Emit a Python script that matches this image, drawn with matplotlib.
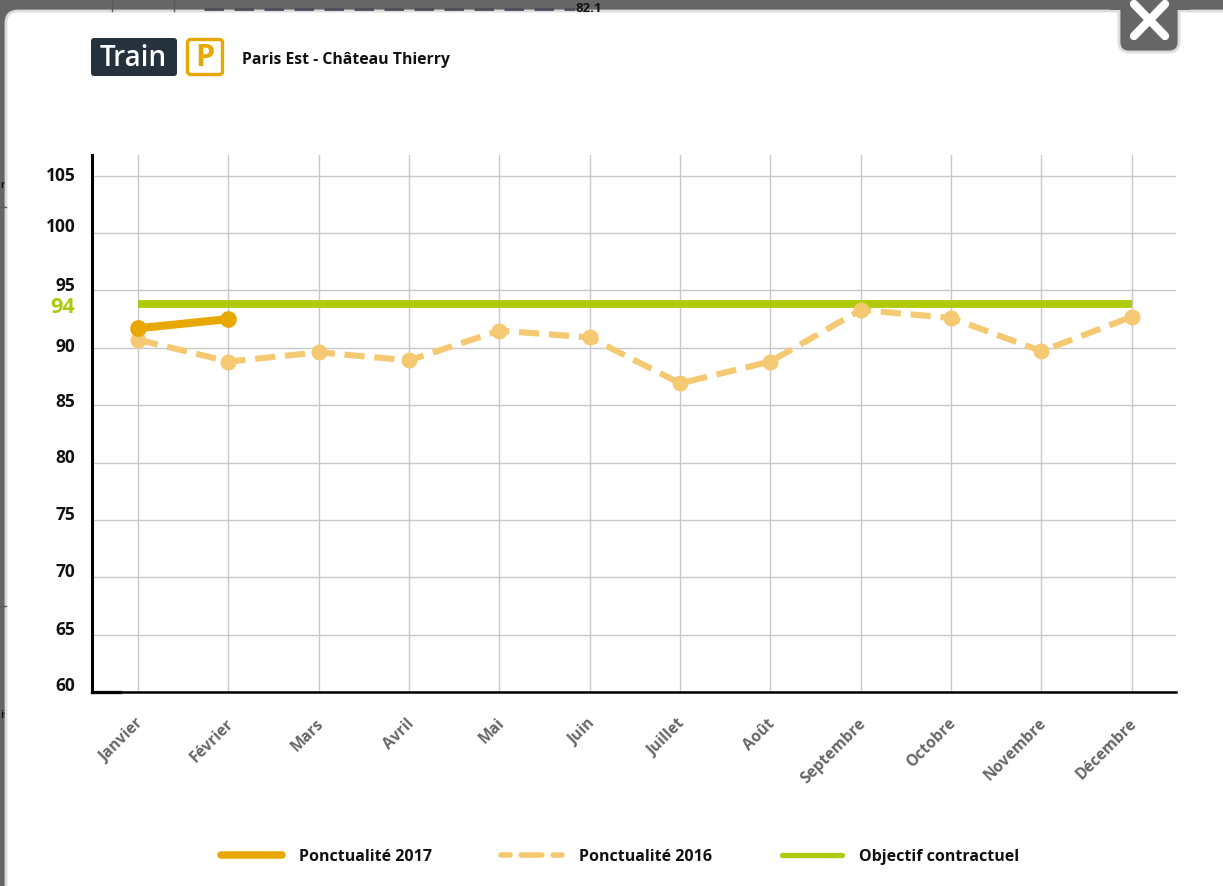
# -*- coding: utf-8 -*-
import matplotlib
matplotlib.use('Agg')
from matplotlib import pyplot as plt
from matplotlib.lines import Line2D
from matplotlib.patches import FancyBboxPatch, Rectangle
from matplotlib.transforms import ScaledTranslation, blended_transform_factory

plt.rcParams['font.family'] = ['Open Sans', 'DejaVu Sans']

mois = ['Janvier', 'Février', 'Mars', 'Avril', 'Mai', 'Juin', 'Juillet', 'Août',
        'Septembre', 'Octobre', 'Novembre', 'Décembre']
ponct_2017 = [91.7, 92.5]
ponct_2016 = [90.7, 88.8, 89.6, 88.9, 91.5, 90.9, 86.9, 88.8, 93.3, 92.6, 89.7, 92.7]
objectif = [93.85] * 12
y_ticks = [60, 65, 70, 75, 80, 85, 90, 95, 100, 105]
# the page nudges each y label upward by its own amount
y_offsets = [6, 5, 5, 5, 5, 3, 1, 4, 6, 0]

ORANGE = '#e8a800'
ORANGE_CLAIR = '#f5c872'
VERT = '#afca0b'
W, H = 1223, 886

fig = plt.figure(figsize=(W / 100, H / 100), dpi=100, facecolor='#666666')

# page behind the chart, in pixel coordinates
bg = fig.add_axes([0, 0, 1, 1], zorder=0)
bg.set_xlim(0, W)
bg.set_ylim(H, 0)
bg.axis('off')

bg.plot([204, 575], [9, 9], color='#4d4d5c', lw=2, dashes=(7, 3.8))
bg.text(576, 8.5, '82.1', fontsize=9.5, fontweight='bold', color='#111111', va='center')
bg.plot([112, 112], [0, 11], color='#5a5a5a', lw=1)
bg.plot([174, 174], [0, 11], color='#5a5a5a', lw=1)
bg.plot([0, 6], [207, 207], color='#5a5a5a', lw=1)
bg.plot([0, 6], [606, 606], color='#5a5a5a', lw=1)
bg.text(0, 185, 'n', fontsize=7, fontweight='bold', color='#111111', va='center', zorder=0.5)
bg.text(0, 715, 'is', fontsize=7, fontweight='bold', color='#111111', va='center', zorder=0.5)

# white panel, runs off the right and bottom edges
bg.add_patch(FancyBboxPatch((16, 21), W + 60, H + 60, boxstyle='round,pad=10,rounding_size=12',
                            fc='white', ec='#dddddd', lw=2))

# close button notch
bg.add_patch(FancyBboxPatch((1129, -20), 40, 62, boxstyle='round,pad=10,rounding_size=10',
                            fc='#666666', ec='#dddddd', lw=2))
bg.add_patch(Rectangle((1110, 0), 80, 10, fc='#666666', ec='none'))
bg.plot([1134, 1165], [4, 36], color='white', lw=6, solid_capstyle='round')
bg.plot([1134, 1165], [36, 4], color='white', lw=6, solid_capstyle='round')

# header
bg.add_patch(FancyBboxPatch((94, 41), 80, 32, boxstyle='round,pad=3,rounding_size=3',
                            fc='#25323e', ec='none'))
bg.text(133.5, 58, 'Train', color='white', fontsize=20, fontweight='semibold',
        ha='center', va='center')
bg.add_patch(FancyBboxPatch((190, 42), 30, 30, boxstyle='round,pad=2.5,rounding_size=3',
                            fc='white', ec=ORANGE, lw=2.4))
bg.text(205, 58, 'P', color=ORANGE, fontsize=22, fontweight='bold', ha='center', va='center')
bg.text(242, 60, 'Paris Est - Château Thierry', color='#111111', fontsize=11.3,
        fontweight='bold', va='center')

# chart
ax = fig.add_axes([92 / W, 1 - 692 / H, (1176 - 92) / W, (692 - 155) / H], zorder=1)
ax.patch.set_alpha(0)
x = list(range(12))
ax.set_xlim(-0.51, 11.49)
ax.set_ylim(60, 106.8)

ax.grid(True, color='#c8c8c8', lw=1)
ax.set_axisbelow(True)
for s in ['top', 'right']:
    ax.spines[s].set_visible(False)
ax.spines['left'].set_linewidth(2.2)
ax.spines['bottom'].set_linewidth(1.8)
ax.plot([0, 0.026], [0, 0], transform=ax.transAxes, color='#222222', lw=2.4, clip_on=False)

ax.plot(x, objectif, color=VERT, lw=5.6, solid_capstyle='butt', zorder=3)
ax.plot(x, ponct_2016, color=ORANGE_CLAIR, lw=4.4, dashes=(3.3, 1.6), marker='o', ms=11.5,
        mew=0, zorder=4)
ax.plot(x[:2], ponct_2017, color=ORANGE, lw=5.8, marker='o', ms=12, mew=0,
        solid_capstyle='butt', zorder=5)

ax.set_xticks(x)
ax.set_xticklabels(mois, rotation=45, ha='right', rotation_mode='anchor', fontsize=11.2,
                   fontweight='bold', color='#666666')
ax.tick_params(axis='x', length=0, pad=17)
for lab in ax.get_xticklabels():
    lab.set_transform(lab.get_transform() + ScaledTranslation(-3 / 100, 0, fig.dpi_scale_trans))
ax.set_yticks(y_ticks)
ax.set_yticklabels([])
ax.tick_params(axis='y', length=0)

trans = blended_transform_factory(ax.transAxes, ax.transData)
for val, off in zip(y_ticks, y_offsets):
    ax.annotate(str(val), (0, val), xycoords=trans, xytext=(-12, off * 0.72),
                textcoords='offset points', ha='right', va='center', fontsize=12.5,
                fontweight='bold', color='#111111')
ax.annotate('94', (0, objectif[0]), xycoords=trans, xytext=(-12, -3), textcoords='offset points',
            ha='right', va='center', fontsize=15.5, fontweight='bold', color=VERT)

handles = [
    Line2D([], [], color=ORANGE, lw=5.4, solid_capstyle='round'),
    Line2D([], [], color=ORANGE_CLAIR, lw=4, linestyle=(2.09, (3.73, 2)), dash_capstyle='round'),
    Line2D([], [], color=VERT, lw=3.8, solid_capstyle='round'),
]
fig.legend(handles, ['Ponctualité 2017', 'Ponctualité 2016', 'Objectif contractuel'],
           ncol=3, frameon=False, loc='center left', bbox_to_anchor=(221 / W, 1 - 857 / H),
           handlelength=3.8, handletextpad=1.07, columnspacing=4.35, borderpad=0, borderaxespad=0,
           prop={'weight': 'bold', 'size': 11.5}, labelcolor='#111111')

fig.savefig('out.png', dpi=100, facecolor=fig.get_facecolor())
